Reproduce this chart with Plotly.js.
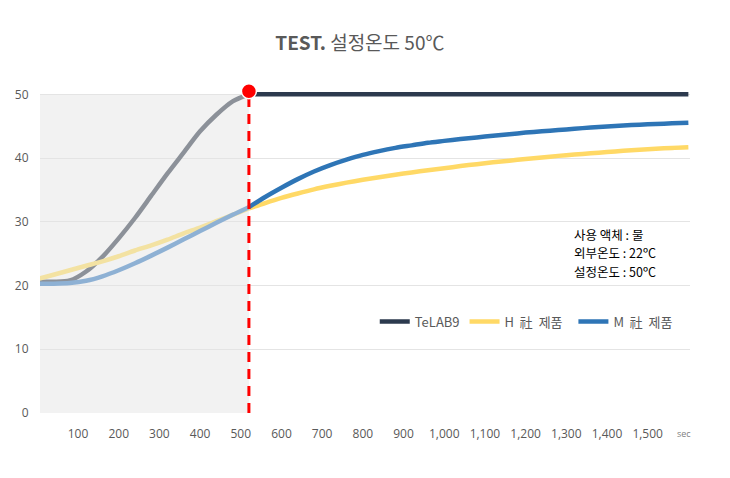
<!DOCTYPE html>
<html>
<head>
<meta charset="utf-8">
<script src="https://cdn.plot.ly/plotly-3.0.1.min.js"></script>
<style>html,body{margin:0;padding:0;background:#fff;}#chart{width:730px;height:478px;}</style>
</head>
<body>
<div id="chart"></div>
<script>
// Time (sec)
const timeSec = [0,40,80,120,160,200,240,280,320,360,400,440,480,520,560,600,640,680,720,760,800,840,880,920,960,1000,1040,1080,1120,1160,1200,1240,1280,1320,1360,1400,1440,1480,1520,1560,1600];
// TeLAB9
const telab9 = [20.6,20.6,20.8,22.2,24.5,27.4,30.6,34.1,37.6,40.9,44.2,46.8,48.9,50.0,50,50,50,50,50,50,50,50,50,50,50,50,50,50,50,50,50,50,50,50,50,50,50,50,50,50,50];
// H 社 제품
const hProduct = [21.0,21.7,22.4,23.1,23.8,24.6,25.5,26.3,27.2,28.2,29.1,30.1,31.1,32.1,32.95,33.75,34.45,35.1,35.65,36.15,36.6,37.0,37.4,37.75,38.1,38.4,38.75,39.05,39.35,39.6,39.85,40.1,40.35,40.55,40.75,40.95,41.15,41.3,41.45,41.6,41.7];
// M 社 제품
const mProduct = [20.3,20.3,20.4,20.75,21.45,22.4,23.5,24.7,25.95,27.25,28.55,29.85,31.1,32.3,33.9,35.35,36.7,37.9,38.9,39.75,40.5,41.1,41.6,42.0,42.4,42.7,43.0,43.25,43.5,43.75,44.0,44.2,44.4,44.6,44.8,44.95,45.1,45.25,45.35,45.45,45.55];
// Reach point
const reachTime = [520];
const reachTemp = [50.5];
const dashTemps = [0, 50];
// Axis ticks
const xTickVals = [100,200,300,400,500,600,700,800,900,1000,1100,1200,1300,1400,1500];
const xTickText = ["100","200","300","400","500","600","700","800","900","1,000","1,100","1,200","1,300","1,400","1,500"];
const yTickVals = [0,10,20,30,40,50];
const seriesNames = ["TeLAB9","H\u00a0\u00a0社\u00a0\u00a0제품\u00a0\u00a0","M\u00a0\u00a0社\u00a0\u00a0제품"];
const infoLines = ["사용 액체 : 물","외부온도 : 22ºC","설정온도 : 50ºC"];

const cut = reachTime[0];
function part(arr, before){
  const xs=[], ys=[];
  timeSec.forEach((t,i)=>{ if(before ? t<=cut : t>=cut){ xs.push(t); ys.push(arr[i]); } });
  return {xs, ys};
}
const fullColors = ["#2c3a4e","#ffd966","#2e75b6"];
const fadeColors = ["#8c9199","#f3e2a2","#8eb1d4"];
const data = [telab9, hProduct, mProduct];
const traces = [];
data.forEach((arr,k)=>{
  const p = part(arr,true);
  traces.push({x:p.xs,y:p.ys,type:'scatter',mode:'lines',line:{color:fadeColors[k],width:4.5,shape:'spline',smoothing:0.8},showlegend:false,hoverinfo:'skip'});
});
data.forEach((arr,k)=>{
  const p = part(arr,false);
  traces.push({x:p.xs,y:p.ys,type:'scatter',mode:'lines',name:seriesNames[k],line:{color:fullColors[k],width:4.5,shape:'spline',smoothing:0.8}});
});
traces.push({x:[cut,cut],y:dashTemps,type:'scatter',mode:'lines',line:{color:'#ff0000',width:3,dash:'10px,7px'},showlegend:false,hoverinfo:'skip'});
traces.push({x:reachTime,y:reachTemp,type:'scatter',mode:'markers',marker:{color:'#ff0000',size:15,line:{color:'#ffffff',width:1.5}},showlegend:false,cliponaxis:false});

const font = "'Open Sans','Noto Sans CJK KR',sans-serif";
const kfont = "'Noto Sans CJK KR','Open Sans',sans-serif";
const plotTop = 88, plotBottom = 413.5;
function py2paper(py){ return (plotBottom - py)/(plotBottom - plotTop); }
const infoY = [234.5, 253, 271.5];
const annotations = infoLines.map((s,i)=>({xref:'paper',yref:'paper',x:0.82,y:py2paper(infoY[i]),xanchor:'left',yanchor:'middle',align:'left',showarrow:false,borderpad:0,text:s,font:{size:12.5,color:'#000000',family:kfont}}));
annotations.push({xref:'paper',yref:'paper',x:0.99,y:py2paper(434),xanchor:'center',yanchor:'middle',showarrow:false,text:'sec',font:{size:9,color:'#7f7f7f'}});

const layout = {
  width:730,height:478,
  margin:{l:40,r:40,t:plotTop,b:478-plotBottom},
  paper_bgcolor:'#ffffff',plot_bgcolor:'#ffffff',
  font:{family:font,color:'#595959',size:12},
  title:{text:'<b>TEST.</b> 설정온도 50℃',font:{family:kfont,size:19,color:'#595959'},x:0.493,xanchor:'center',y:0.91,yanchor:'middle'},
  xaxis:{range:[6.6,1604],tickvals:xTickVals,ticktext:xTickText,showgrid:false,zeroline:false,showline:false,ticks:'outside',ticklen:10,tickcolor:'rgba(0,0,0,0)',tickfont:{size:12,color:'#595959'}},
  yaxis:{range:[0,51],tickvals:yTickVals,showgrid:true,gridcolor:'#e4e4e4',gridwidth:1,zeroline:false,showline:false,ticks:'outside',ticklen:8,tickcolor:'rgba(0,0,0,0)',tickfont:{size:12,color:'#595959'}},
  shapes:[{type:'rect',xref:'x',yref:'y',x0:6.6,x1:cut,y0:0,y1:50,fillcolor:'#f2f2f2',line:{width:0},layer:'below'}],
  legend:{orientation:'h',x:0.515,xanchor:'left',y:py2paper(322),yanchor:'middle',font:{size:13,color:'#595959',family:kfont},bgcolor:'rgba(0,0,0,0)',itemwidth:30},
  annotations:annotations,
  showlegend:true
};
Plotly.newPlot('chart',traces,layout,{displayModeBar:false,staticPlot:true});
</script>
</body>
</html>
